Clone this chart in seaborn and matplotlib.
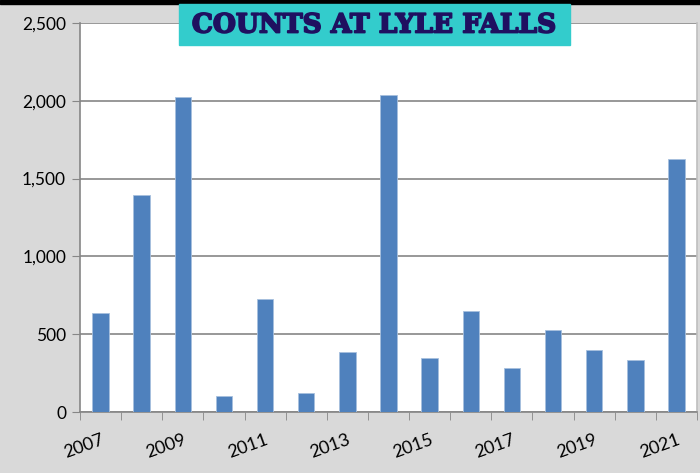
import numpy as np
import pandas as pd
import matplotlib.pyplot as plt
import matplotlib.patheffects as pe
import seaborn as sns
from matplotlib.patches import Rectangle

years = [str(y) for y in range(2007, 2022)]
counts = [636, 1395, 2025, 103, 726, 122, 386, 2035, 347, 649, 283, 527, 398, 334, 1626]

df = pd.DataFrame({"Year": years, "Count": counts})

sns.set_style("white")
plt.rcParams["font.family"] = ["Lato", "DejaVu Sans"]

W, H = 700, 473
fig = plt.figure(figsize=(7, 4.73), dpi=100, facecolor="#d9d9d9")
ax = fig.add_axes([80 / W, 61 / H, 617 / W, 389 / H])
ax.set_facecolor("white")

sns.barplot(data=df, x="Year", y="Count", color="#4f81bd", width=0.4,
            saturation=1, ax=ax, zorder=3, edgecolor="#a7c0de", linewidth=0.6)

ax.set_ylim(0, 2500)
ax.set_xlim(-0.5, len(years) - 0.5)
ax.set_yticks(range(0, 2501, 500))
ax.set_yticklabels([f"{v:,}" for v in range(0, 2501, 500)], fontsize=12.5, color="black")
ax.yaxis.grid(True, color="#868686", linewidth=1.2, zorder=0)
ax.tick_params(axis="y", length=6, color="#868686", direction="out", pad=4, left=True)

# labels every other year, ticks between categories
ax.set_xticks(range(0, len(years), 2))
ax.set_xticklabels(years[::2], rotation=20, ha="right", va="top",
                   rotation_mode="anchor", fontsize=13, color="black")
ax.tick_params(axis="x", which="major", length=0, pad=14)
ax.set_xticks(np.arange(-0.5, len(years), 1), minor=True)
ax.tick_params(axis="x", which="minor", length=6, color="#868686",
               direction="out", bottom=True)
ax.set_xlabel("")
ax.set_ylabel("")

ax.spines["top"].set_visible(False)
for side in ["left", "bottom", "right"]:
    ax.spines[side].set_color("#868686")
    ax.spines[side].set_linewidth(1.2)
ax.spines["right"].set_color("#bfbfbf")

# black band at the top
fig.patches.append(Rectangle((0, 1 - 4 / H), 1, 4 / H, transform=fig.transFigure,
                             color="black", zorder=0))

# title box
fig.patches.append(Rectangle((179 / W, 1 - 45 / H), 391 / W, 41 / H,
                             transform=fig.transFigure, color="#33cccc", zorder=5))
fig.text(374 / W, 1 - 25 / H, "COUNTS AT LYLE FALLS", ha="center", va="center",
         fontsize=19, fontweight="bold", family=["DejaVu Serif"], color="#1f1060",
         zorder=6, path_effects=[pe.withStroke(linewidth=1.3, foreground="#1f1060")])

fig.savefig("out.png", dpi=100, facecolor=fig.get_facecolor())
